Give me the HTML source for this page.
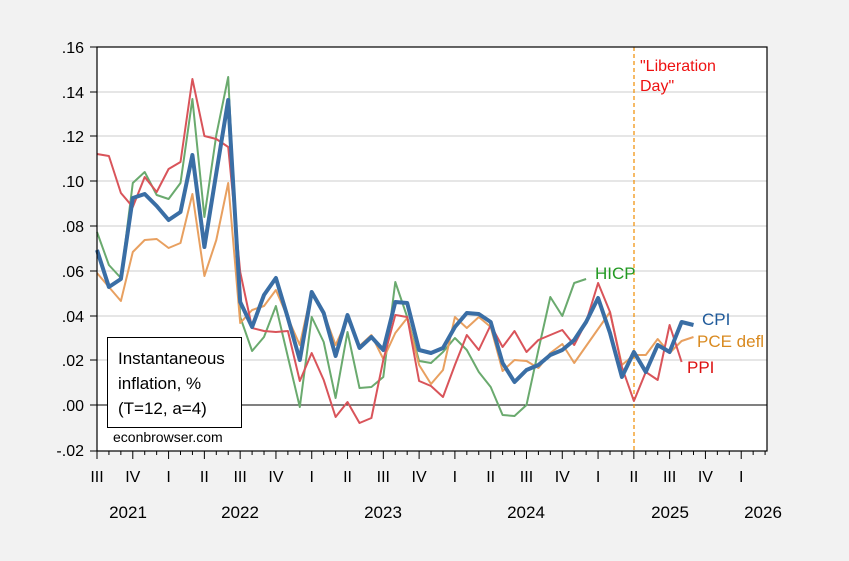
<!DOCTYPE html>
<html><head><meta charset="utf-8"><style>
html,body{margin:0;padding:0;background:#f2f2f2;}
svg{display:block;font-family:"Liberation Sans",Arial,sans-serif;}
</style></head><body>
<svg width="849" height="561" viewBox="0 0 849 561" xmlns="http://www.w3.org/2000/svg">
<rect x="0" y="0" width="849" height="561" fill="#f2f2f2"/>
<rect x="97" y="47" width="670" height="404" fill="#fff"/>
<g stroke="#cccccc" stroke-width="1">
<line x1="97" x2="767" y1="92" y2="92"/><line x1="97" x2="767" y1="136" y2="136"/>
<line x1="97" x2="767" y1="181" y2="181"/><line x1="97" x2="767" y1="226" y2="226"/>
<line x1="97" x2="767" y1="271" y2="271"/><line x1="97" x2="767" y1="316" y2="316"/>
<line x1="97" x2="767" y1="360" y2="360"/>
</g>
<line x1="97" x2="767" y1="405" y2="405" stroke="#000" stroke-width="1"/>
<line x1="634" x2="634" y1="47" y2="451" stroke="#f08c00" stroke-width="1.2" stroke-dasharray="4,3"/>
<g fill="none" stroke-linejoin="round">
<polyline id="g" stroke="#6aaa6e" stroke-width="2" points=""/>
<polyline id="o" stroke="#e8a060" stroke-width="2" points=""/>
<polyline id="r" stroke="#d9545a" stroke-width="2" points=""/>
<polyline id="c" stroke="#3a6ea5" stroke-width="4" points=""/>
</g>
<rect x="97" y="47" width="670" height="404" fill="none" stroke="#000" stroke-width="1.2"/>
<g stroke="#000" stroke-width="1">
<line x1="90" x2="97" y1="47" y2="47"/><line x1="90" x2="97" y1="92" y2="92"/><line x1="90" x2="97" y1="136" y2="136"/>
<line x1="90" x2="97" y1="181" y2="181"/><line x1="90" x2="97" y1="226" y2="226"/><line x1="90" x2="97" y1="271" y2="271"/>
<line x1="90" x2="97" y1="316" y2="316"/><line x1="90" x2="97" y1="360" y2="360"/><line x1="90" x2="97" y1="405" y2="405"/>
<line x1="90" x2="97" y1="451" y2="451"/>
</g>
<g id="ticks" stroke="#000" stroke-width="1"></g>
<g font-size="16" fill="#000" text-anchor="end">
<text x="84" y="53">.16</text><text x="84" y="98">.14</text><text x="84" y="142">.12</text>
<text x="84" y="187">.10</text><text x="84" y="232">.08</text><text x="84" y="277">.06</text>
<text x="84" y="322">.04</text><text x="84" y="366">.02</text><text x="84" y="411">.00</text>
<text x="84" y="456">-.02</text>
</g>
<g id="ql" font-size="16" fill="#000" text-anchor="middle"></g>
<g font-size="17" fill="#000" text-anchor="middle">
<text x="128" y="518">2021</text><text x="240" y="518">2022</text><text x="383" y="518">2023</text>
<text x="526" y="518">2024</text><text x="670" y="518">2025</text><text x="763" y="518">2026</text>
</g>
<rect x="107.5" y="337.5" width="134" height="90" fill="#fff" stroke="#000" stroke-width="1"/>
<g font-size="17" fill="#000">
<text x="118" y="364">Instantaneous</text>
<text x="118" y="389">inflation, %</text>
<text x="118" y="414">(T=12, a=4)</text>
<text x="113" y="442" font-size="14">econbrowser.com</text>
</g>
<g font-size="16">
<text x="640" y="71" fill="#ee1111">"Liberation</text>
<text x="640" y="91" fill="#ee1111">Day"</text>
<text x="595" y="279" fill="#229922" font-size="17">HICP</text>
<text x="702" y="325" fill="#1f5a9a" font-size="17">CPI</text>
<text x="697" y="347" fill="#d98a20" font-size="17">PCE defl</text>
<text x="687" y="373" fill="#dd1111" font-size="17">PPI</text>
</g>
</svg>
<script>
const X=i=>(97+i*11.93).toFixed(1);
function pts(a,start){return a.map((y,k)=>y==null?null:X(k+(start||0))+","+y).filter(Boolean).join(" ");}
const C=[250,287,279,198,194,206,220,212,155,247,173,100,302,327,295,278,318,360,292,313,356,315,348,337,350,302,303,350,353,348,327,313,314,322,363,382,370,365,355,350,340,322,298,333,377,352,372,345,352,322,325];
const G=[232,265,278,183,172,195,199,183,99,217,135,77,317,351,337,306,357,407,317,342,398,332,388,387,377,282,317,361,363,352,338,350,372,387,415,416,405,350,297,316,283,279];
const R=[154,156,193,207,177,192,169,162,79,136,139,147,272,328,331,332,331,381,353,380,417,402,423,418,360,315,317,381,386,397,365,335,350,325,347,331,352,340,335,330,345,322,283,312,367,401,372,380,325,362];
const O=[273,287,301,252,240,239,248,243,194,276,240,183,323,310,306,290,318,345,291,313,345,319,346,335,359,333,318,365,384,370,317,328,317,327,371,360,361,368,353,344,363,null,null,312,365,355,355,339,353,341,337];
document.getElementById('c').setAttribute('points',pts(C));
document.getElementById('g').setAttribute('points',pts(G));
document.getElementById('r').setAttribute('points',pts(R));
document.getElementById('o').setAttribute('points',pts(O));
let t='',q='';const names=['III','IV','I','II'];
for(let i=0;i<=56;i++){const x=97+i*11.93;if(x>767)break;const major=i%3==0;
t+=`<line x1="${x}" x2="${x}" y1="451" y2="${major?459:455}"/>`;
if(major){q+=`<text x="${x}" y="482">${names[(i/3)%4]}</text>`;}}
document.getElementById('ticks').innerHTML=t;
document.getElementById('ql').innerHTML=q;
</script>
</body></html>
